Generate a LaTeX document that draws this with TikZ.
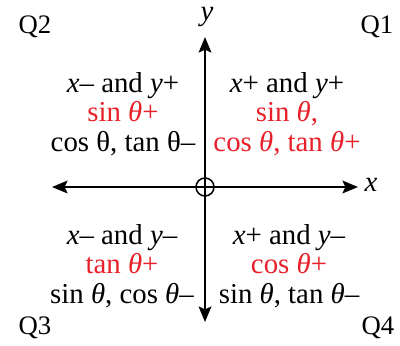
\documentclass[tikz,border=0pt]{standalone}
\usepackage{fontspec}
\setmainfont{Liberation Serif}
\usepackage{xcolor}
\usetikzlibrary{arrows.meta}

\definecolor{sigred}{HTML}{E8202A}
\newcommand{\ital}{\textit}
\newcommand{\thi}{\textit{θ}}

\begin{document}
\begin{tikzpicture}[x=0.025cm, y=-0.025cm, every node/.style={font=\fontsize{20.5}{20.8}\selectfont},
    axis/.style={line width=1.5pt, -{Stealth[length=11pt, width=9pt, inset=2pt]}},
    quad/.style={align=center, inner sep=0pt}]
    \useasboundingbox (0,0) rectangle (400,345);

    % Axes
    \coordinate (xl) at (52,187);
    \coordinate (xr) at (358,187);
    \coordinate (yt) at (205,37);
    \coordinate (yb) at (205,322);
    \node[draw, circle, line width=1.1pt, minimum size=0.45cm, inner sep=0pt] (orig) at (205,187) {};
    \draw[axis] (orig) -- (xl);
    \draw[axis] (orig) -- (xr);
    \draw[axis] (orig) -- (yt);
    \draw[axis] (orig) -- (yb);
    \draw[line width=1.1pt] (orig.west) -- (orig.east) (orig.north) -- (orig.south);
    \node (ylab) at (207,17) {\ital{y}};
    \node (xlab) at (371,185) {\ital{x}};

    % Quadrant names
    \foreach \q/\px/\py in {Q1/377/27, Q2/35/27, Q3/35/328, Q4/378/328} {
        \node[font=\fontsize{19}{20}\selectfont] (\q) at (\px,\py) {\q};
    }

    % Signs in each quadrant
    \node[quad] (txt1) at (287,114) {\ital{x}+ and \ital{y}+\\
        \textcolor{sigred}{sin \thi,}\\
        \textcolor{sigred}{cos \thi, tan \thi+}};
    \node[quad] (txt2) at (123,114) {\ital{x}– and \ital{y}+\\
        \textcolor{sigred}{sin \thi+}\\
        cos θ, tan θ–};
    \node[quad] (txt3) at (122,266) {\ital{x}– and \ital{y}–\\
        \textcolor{sigred}{tan \thi+}\\
        sin \thi, cos \thi–};
    \node[quad] (txt4) at (289,266) {\ital{x}+ and \ital{y}–\\
        \textcolor{sigred}{cos \thi+}\\
        sin \thi, tan \thi–};
\end{tikzpicture}
\end{document}
